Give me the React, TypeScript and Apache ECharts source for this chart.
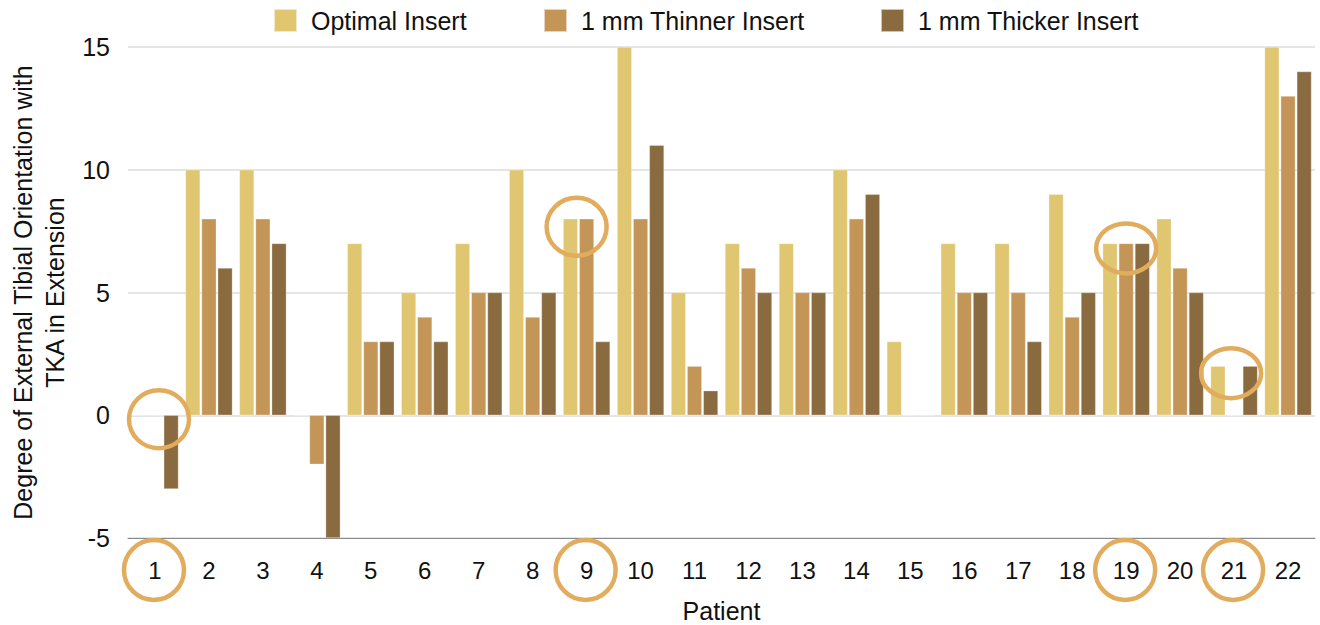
import React, { useEffect, useRef } from "react";
import * as echarts from "echarts";

const patients = ["1","2","3","4","5","6","7","8","9","10","11","12","13","14","15","16","17","18","19","20","21","22"];
const optimalInsert = [0, 10, 10, 0, 7, 5, 7, 10, 8, 15, 5, 7, 7, 10, 3, 7, 7, 9, 7, 8, 2, 15];
const thinnerInsert = [0, 8, 8, -2, 3, 4, 5, 4, 8, 8, 2, 6, 5, 8, 0, 5, 5, 4, 7, 6, 0, 13];
const thickerInsert = [-3, 6, 7, -5, 3, 3, 5, 5, 3, 11, 1, 5, 5, 9, 0, 5, 3, 5, 7, 5, 2, 14];
const seriesNames = ["Optimal Insert", "1 mm Thinner Insert", "1 mm Thicker Insert"];
const yTicks = [-5, 0, 5, 10, 15];
// highlighted patients and the value level the plot circle marks
const circledPatients = ["1", "9", "19", "21"];
const circledLevels = [0, 8, 7, 2];

const COLORS = ["#E0C670", "#C39556", "#8A6A3F"];
const RING = "#E2AC5E";
const FONT = "'Liberation Sans', Arial, Helvetica, sans-serif";

export default function App() {
  const ref = useRef<HTMLDivElement>(null);
  useEffect(() => {
    if (!ref.current) return;
    const chart = echarts.init(ref.current, null, { renderer: "svg" });
    const mk = (name: string, data: number[], color: string) => ({
      name,
      type: "bar",
      data,
      barGap: "10%",
      barCategoryGap: "13%",
      itemStyle: { color, borderColor: "rgba(255,255,255,0.6)", borderWidth: 0.5 },
    });
    const legendLefts = [273, 543, 880];
    chart.setOption({
      animation: false,
      textStyle: { fontFamily: FONT },
      legend: seriesNames.map((n, i) => ({
        top: 8,
        left: legendLefts[i],
        padding: 0,
        itemWidth: 23,
        itemHeight: 23,
        icon: "rect",
        textStyle: { fontSize: 25, color: "#111", fontFamily: FONT, padding: [0, 0, 0, 9] },
        data: [n],
      })),
      grid: { left: 128, right: 5, top: 47, bottom: 87, containLabel: false, outerBoundsMode: "none" },
      xAxis: {
        type: "category",
        data: patients,
        name: "Patient",
        nameLocation: "middle",
        nameGap: 60,
        nameTextStyle: { fontSize: 25, color: "#111", fontFamily: FONT },
        axisLine: { onZero: false, lineStyle: { color: "#8a8a8a", width: 1 } },
        axisTick: { show: false },
        axisLabel: { fontSize: 24, color: "#111", margin: 20, fontFamily: FONT },
      },
      yAxis: {
        type: "value",
        min: yTicks[0],
        max: yTicks[yTicks.length - 1],
        interval: 5,
        name: "Degree of External Tibial Orientation with\nTKA in Extension",
        nameLocation: "middle",
        nameGap: 48,
        nameTextStyle: { fontSize: 25, color: "#111", lineHeight: 32, fontFamily: FONT },
        axisLine: { show: false },
        axisTick: { show: false },
        axisLabel: { fontSize: 25, color: "#111", margin: 18, fontFamily: FONT },
        splitLine: { lineStyle: { color: "#dcdcdc", width: 1.5 } },
      },
      series: [
        mk(seriesNames[0], optimalInsert, COLORS[0]),
        mk(seriesNames[1], thinnerInsert, COLORS[1]),
        mk(seriesNames[2], thickerInsert, COLORS[2]),
      ],
    });

    const plotOffsets = [[4, 4, 30, 29], [-10, 8, 30, 29], [0, 5, 30, 25], [-3, 7, 30, 25]];
    const graphics: any[] = [];
    circledPatients.forEach((p, i) => {
      const [cx, cy] = chart.convertToPixel({ xAxisIndex: 0, yAxisIndex: 0 }, [p, circledLevels[i]]) as number[];
      const [, yBottom] = chart.convertToPixel({ xAxisIndex: 0, yAxisIndex: 0 }, [p, yTicks[0]]) as number[];
      const o = plotOffsets[i];
      graphics.push({
        type: "ellipse",
        silent: true,
        z: 100,
        shape: { cx: cx + o[0], cy: cy + o[1], rx: o[2], ry: o[3] },
        style: { fill: "none", stroke: RING, lineWidth: 4.5 },
      });
      graphics.push({
        type: "ellipse",
        silent: true,
        z: 100,
        shape: { cx: cx - 1, cy: yBottom + 32, rx: 30, ry: 30 },
        style: { fill: "none", stroke: RING, lineWidth: 4.5 },
      });
    });
    chart.setOption({ graphic: graphics });

    return () => chart.dispose();
  }, []);
  return <div ref={ref} style={{ position: "absolute", left: 0, top: 0, width: 1320, height: 625 }} />;
}
